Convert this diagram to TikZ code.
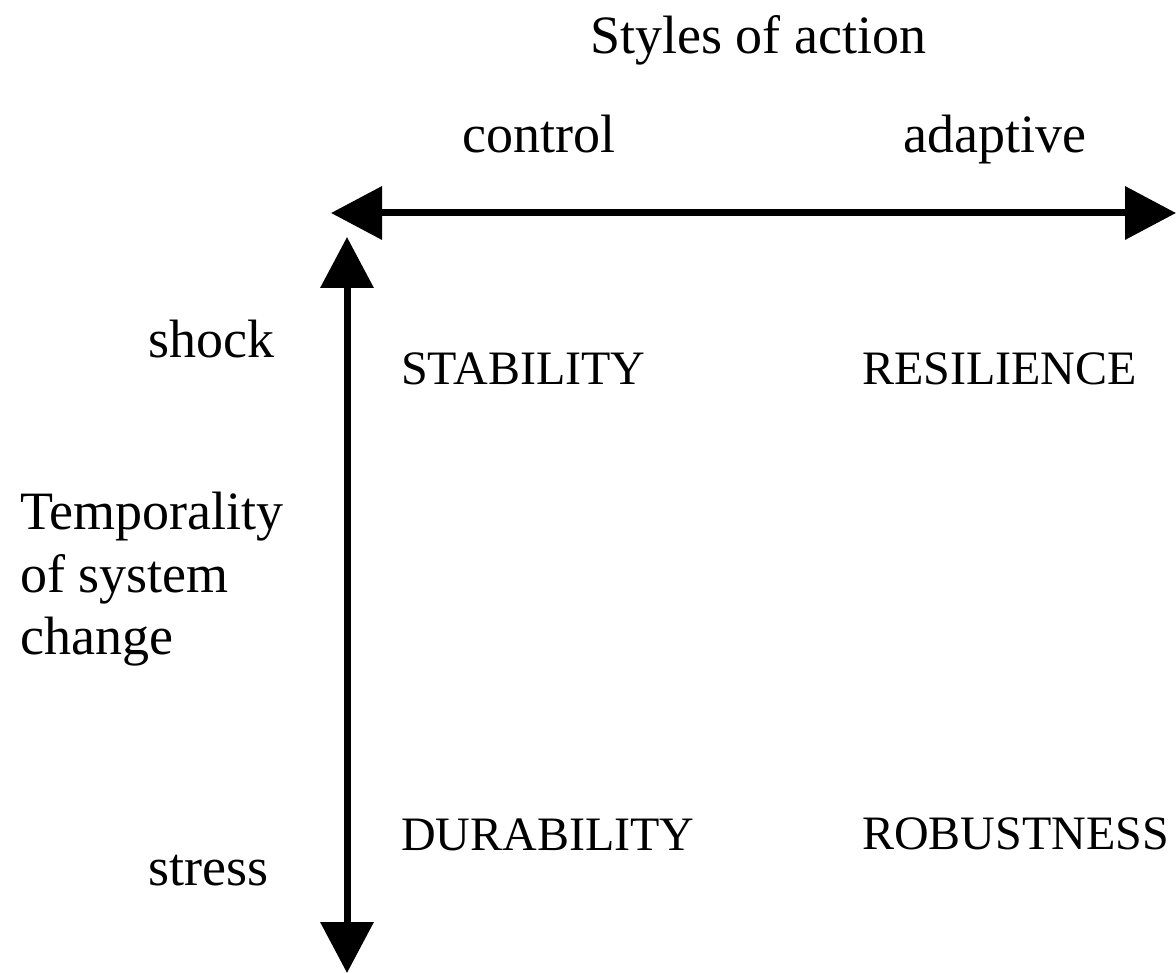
\documentclass[tikz,border=0pt]{standalone}
\usepackage{fontspec}
\setmainfont{Liberation Serif}
\usetikzlibrary{arrows.meta}

\tikzset{
  axis/.style={line width=7pt, {Triangle[length=51pt,width=52pt]}-{Triangle[length=51pt,width=52pt]}},
  axislabel/.style={anchor=base west, inner sep=0pt, font=\fontsize{54}{62.5}\selectfont},
  quadrant/.style={anchor=base west, inner sep=0pt, font=\fontsize{48}{54}\selectfont}
}

\begin{document}
\begin{tikzpicture}[x=1pt,y=1pt,yscale=-1,xscale=1]
    \useasboundingbox (0,0) rectangle (1176,973);

    % Axis ends
    \coordinate (hleft) at (331,213);
    \coordinate (hright) at (1176,213);
    \coordinate (vtop) at (347,237);
    \coordinate (vbottom) at (347,973);

    % Axes
    \draw [axis] (hleft) -- (hright);
    \draw [axis] (vtop) -- (vbottom);

    % Text Node
    \node (styles) at (590,54) [axislabel] {Styles of action};
    % Text Node
    \node (control) at (462,153) [axislabel] {control};
    % Text Node
    \node (adaptive) at (903,153) [axislabel] {adaptive};
    % Text Node
    \node (shock) at (148,358) [axislabel] {shock};
    % Text Node
    \node (stress) at (148,885) [axislabel] {stress};
    % Text Node
    \node (temporality) at (20,492) [axislabel, align=left, anchor=north west] {Temporality\\of system\\change};

    % Text Node
    \node (stability) at (401,385) [quadrant] {STABILITY};
    % Text Node
    \node (resilience) at (862,385) [quadrant] {RESILIENCE};
    % Text Node
    \node (durability) at (401,850) [quadrant] {DURABILITY};
    % Text Node
    \node (robustness) at (862,849) [quadrant] {ROBUSTNESS};

\end{tikzpicture}
\end{document}
